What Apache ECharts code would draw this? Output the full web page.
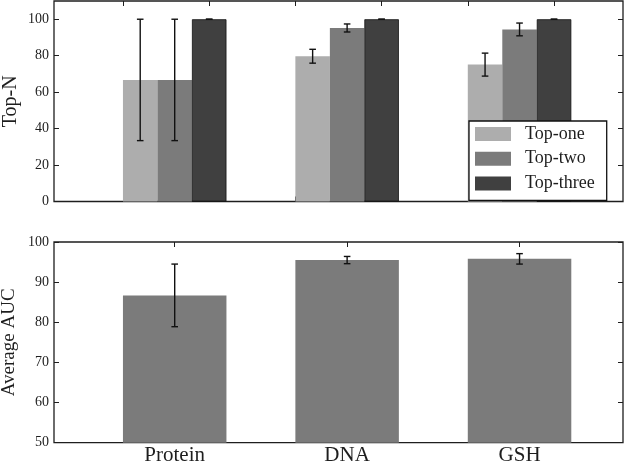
<!DOCTYPE html>
<html>
<head>
<meta charset="utf-8">
<script src="https://cdn.jsdelivr.net/npm/echarts@6/dist/echarts.min.js"></script>
<style>
html,body{margin:0;padding:0;background:#fff;}
#c{width:625px;height:465px;}
</style>
</head>
<body>
<div id="c"></div>
<script>
const categories = ['Protein', 'DNA', 'GSH'];
const seriesNames = ['Top-one', 'Top-two', 'Top-three'];
const topOne = [66.7, 79.7, 75.1];
const topOneErr = [33.3, 3.8, 6.3];
const topTwo = [66.7, 95.2, 94.4];
const topTwoErr = [33.3, 2.2, 3.5];
const topThree = [100, 100, 100];
const topThreeErr = [0, 0, 0];
const auc = [86.7, 95.5, 95.8];
const aucErr = [7.8, 0.9, 1.3];
const topYTicks = [0, 20, 40, 60, 80, 100];
const bottomYTicks = [50, 60, 70, 80, 90, 100];

const FONT = 'Liberation Serif';
const INK = '#1e1e1e';
const colors = ['#adadad', '#7b7b7b', '#404040'];
const topVals = [topOne, topTwo, topThree];
const topErrs = [topOneErr, topTwoErr, topThreeErr];
const groupW = 0.6;            // width of a bar group in category units
const subW = groupW / 3;       // width of one bar in category units
const topXTicks = [];
for (let k = 0; k < 6; k++) topXTicks.push(-groupW / 2 + k * 0.5);
const catIdx = categories.map((c, i) => i);

const chart = echarts.init(document.getElementById('c'));

function tickAxis(gridIndex, position, ticks, extra) {
  return Object.assign({
    type: 'value', gridIndex: gridIndex, position: position,
    min: -0.7, max: 2.6,
    axisLine: {show: false, onZero: false},
    axisTick: {show: true, inside: true, length: 5, customValues: ticks, lineStyle: {color: INK, width: 1}},
    axisLabel: {show: false},
    splitLine: {show: false}
  }, extra || {});
}
function yAxis(gridIndex, position, min, max, ticks, showLabel, extra) {
  return Object.assign({
    type: 'value', gridIndex: gridIndex, position: position, min: min, max: max,
    axisLine: {show: false, onZero: false},
    axisTick: {show: true, inside: true, length: 5, customValues: ticks, lineStyle: {color: INK, width: 1}},
    axisLabel: {show: showLabel, customValues: ticks, margin: 5, color: INK, fontFamily: FONT, fontSize: 14},
    splitLine: {show: false}
  }, extra || {});
}

function errRender(params, api) {
  const x = api.value(0), lo = api.value(1), hi = api.value(2);
  const pTop = api.coord([x, hi]);
  const pBot = api.coord([x, lo]);
  const cap = 3.3;
  const st = {stroke: '#111', lineWidth: 1.4};
  return {type: 'group', children: [
    {type: 'line', shape: {x1: pTop[0], y1: pTop[1], x2: pBot[0], y2: pBot[1]}, style: st},
    {type: 'line', shape: {x1: pTop[0] - cap, y1: pTop[1], x2: pTop[0] + cap, y2: pTop[1]}, style: st},
    {type: 'line', shape: {x1: pBot[0] - cap, y1: pBot[1], x2: pBot[0] + cap, y2: pBot[1]}, style: st}
  ]};
}

const series = [];
seriesNames.forEach((name, s) => {
  series.push({
    name: name, type: 'bar', xAxisIndex: 0, yAxisIndex: 0,
    barWidth: 34.5, barGap: '0%',
    itemStyle: {color: colors[s], borderColor: s === 2 ? '#111' : colors[s], borderWidth: s === 2 ? 0.8 : 0},
    data: catIdx.map(i => [i, topVals[s][i]]),
    z: 2
  });
});
seriesNames.forEach((name, s) => {
  const off = -groupW / 2 + subW * (s + 0.5);
  series.push({
    type: 'custom', xAxisIndex: 0, yAxisIndex: 0, renderItem: errRender,
    encode: {x: 0, y: [1, 2]},
    data: catIdx.map(i => [i + off, topVals[s][i] - topErrs[s][i], topVals[s][i] + topErrs[s][i]]),
    z: 5, silent: true
  });
});
series.push({
  name: 'AUC', type: 'bar', xAxisIndex: 2, yAxisIndex: 2,
  barWidth: 103.5,
  itemStyle: {color: '#7b7b7b'},
  data: catIdx.map(i => [i, auc[i]]),
  z: 2
});
series.push({
  type: 'custom', xAxisIndex: 2, yAxisIndex: 2, renderItem: errRender,
  encode: {x: 0, y: [1, 2]},
  data: catIdx.map(i => [i, auc[i] - aucErr[i], auc[i] + aucErr[i]]),
  z: 5, silent: true
});

const option = {
  backgroundColor: '#ffffff',
  animation: false,
  grid: [
    {left: 54, right: 2, top: 1, height: 200.5, show: true, borderColor: INK, borderWidth: 1.3,
     backgroundColor: 'transparent', containLabel: false, outerBoundsMode: 'none'},
    {left: 54, right: 2, top: 242, height: 200.7, show: true, borderColor: INK, borderWidth: 1.3,
     backgroundColor: 'transparent', containLabel: false, outerBoundsMode: 'none'}
  ],
  xAxis: [
    tickAxis(0, 'bottom', topXTicks),
    tickAxis(0, 'top', topXTicks),
    tickAxis(1, 'bottom', catIdx, {
      axisLabel: {show: true, customValues: catIdx, margin: 2, color: INK, fontFamily: FONT, fontSize: 21,
        formatter: v => categories[Math.round(v)]}
    }),
    tickAxis(1, 'top', catIdx)
  ],
  yAxis: [
    yAxis(0, 'left', 0, 110, topYTicks, true, {
      name: 'Top-N', nameLocation: 'middle', nameGap: 33, nameMoveOverlap: false,
      nameTextStyle: {color: INK, fontFamily: FONT, fontSize: 20}
    }),
    yAxis(0, 'right', 0, 110, topYTicks, false),
    yAxis(1, 'left', 50, 100, bottomYTicks, true, {
      name: 'Average AUC', nameLocation: 'middle', nameGap: 35, nameMoveOverlap: false,
      nameTextStyle: {color: INK, fontFamily: FONT, fontSize: 19}
    }),
    yAxis(1, 'right', 50, 100, bottomYTicks, false)
  ],
  legend: {
    data: seriesNames,
    orient: 'vertical', left: 469, top: 121,
    icon: 'rect', itemWidth: 36, itemHeight: 14, itemGap: 6.7,
    padding: [4, 12, 8, 6],
    itemStyle: {borderWidth: 0},
    borderColor: '#111', borderWidth: 1.3, backgroundColor: '#fff', borderRadius: 0,
    textStyle: {color: INK, fontFamily: FONT, fontSize: 18, padding: [0, 0, 0, 9]},
    selectedMode: false, z: 10
  },
  series: series
};
chart.setOption(option);
</script>
</body>
</html>
